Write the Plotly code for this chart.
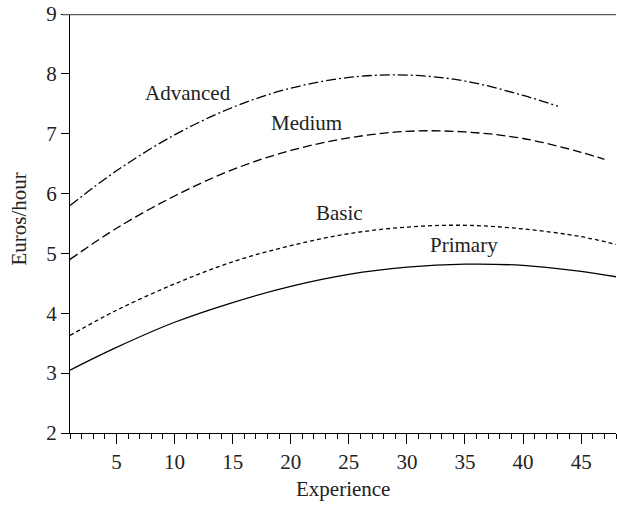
import plotly.graph_objects as go

# Experience (years) at which values were read
exp_adv = [1, 5, 10, 15, 20, 25, 30, 35, 40, 43]
adv = [5.80, 6.38, 6.98, 7.44, 7.76, 7.94, 7.98, 7.88, 7.64, 7.46]

exp_med = [1, 5, 10, 15, 20, 25, 30, 35, 40, 45, 47]
med = [4.90, 5.42, 5.96, 6.40, 6.72, 6.93, 7.04, 7.03, 6.92, 6.69, 6.57]

exp_bas = [1, 5, 10, 15, 20, 25, 30, 35, 40, 45, 48]
bas = [3.63, 4.05, 4.49, 4.86, 5.13, 5.33, 5.44, 5.47, 5.41, 5.28, 5.15]

exp_pri = [1, 5, 10, 15, 20, 25, 30, 35, 40, 45, 48]
pri = [3.05, 3.43, 3.85, 4.18, 4.45, 4.65, 4.77, 4.82, 4.80, 4.70, 4.61]

label_names = ["Advanced", "Medium", "Basic", "Primary"]
label_x = [11.2, 21.4, 24.2, 34.9]
label_y = [7.68, 7.18, 5.67, 5.14]

x_ticks = [5, 10, 15, 20, 25, 30, 35, 40, 45]
y_ticks = [2, 3, 4, 5, 6, 7, 8, 9]

FONT = "Liberation Serif"
FS = 21

fig = go.Figure()
series = [
    (exp_adv, adv, "10px,3px,2px,3px"),
    (exp_med, med, "9px,4px"),
    (exp_bas, bas, "4px,3px"),
    (exp_pri, pri, "solid"),
]
for xs, ys, dash in series:
    fig.add_trace(go.Scatter(
        x=xs, y=ys, mode="lines",
        line=dict(color="black", width=1.3, dash=dash, shape="spline", smoothing=1.0),
        showlegend=False, hoverinfo="skip", cliponaxis=False,
    ))

for name, lx, ly in zip(label_names, label_x, label_y):
    fig.add_annotation(x=lx, y=ly, text=name, showarrow=False,
                       xanchor="center", yanchor="middle",
                       font=dict(family=FONT, size=FS, color="#222"))

fig.add_annotation(x=0, y=0.5, xref="paper", yref="paper", text="Euros/hour",
                   textangle=-90, showarrow=False, xanchor="center", yanchor="middle",
                   xshift=-52, yshift=4, font=dict(family=FONT, size=FS, color="#222"))

fig.add_annotation(x=0.5, y=0, xref="paper", yref="paper", text="Experience",
                   showarrow=False, xanchor="center", yanchor="middle",
                   yshift=-56, font=dict(family=FONT, size=FS, color="#222"))

fig.add_shape(type="line", xref="paper", yref="y", x0=-0.014, x1=1, y0=9, y1=9,
              line=dict(color="#5a5a5a", width=2.4))

fig.update_layout(
    width=617, height=505,
    margin=dict(l=70, r=1, t=14, b=72),
    paper_bgcolor="white", plot_bgcolor="white",
    font=dict(family=FONT, size=FS, color="#222"),
)
fig.update_xaxes(
    range=[1, 48], tickvals=x_ticks, ticktext=[str(v) for v in x_ticks],
    showline=True, linecolor="black", linewidth=1.3,
    ticks="outside", ticklen=10, tickwidth=1.3, tickcolor="black",
    minor=dict(dtick=1, tick0=0, ticks="outside", ticklen=5, tickwidth=1.2, tickcolor="black"),
    showgrid=False, zeroline=False,
    tickfont=dict(family=FONT, size=FS, color="#222"),
)
fig.update_yaxes(
    range=[2, 9], tickvals=y_ticks, ticktext=[str(v) for v in y_ticks],
    showline=True, linecolor="black", linewidth=1.3,
    ticks="outside", ticklen=8, tickwidth=1.3, tickcolor="black",
    showgrid=False, zeroline=False, ticklabeloverflow="allow",
    tickfont=dict(family=FONT, size=FS, color="#222"),
)

# remove the browser's default 8px page margin so the figure fills the window
fig.write_html("out.html", config={"displayModeBar": False},
               post_script="document.body.style.margin='0';document.body.style.overflow='hidden';")
